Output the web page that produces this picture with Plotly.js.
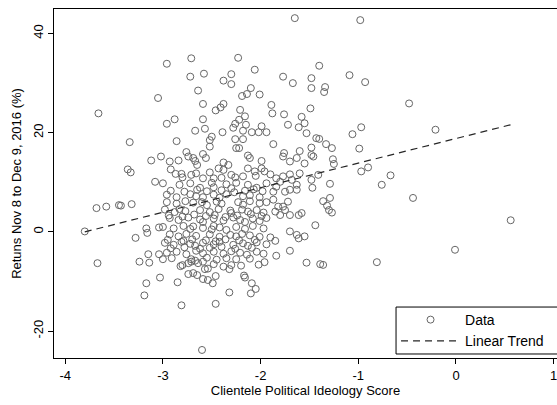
<!DOCTYPE html>
<html>
<head>
<meta charset="utf-8">
<script src="https://cdn.plot.ly/plotly-3.0.1.min.js"></script>
<style>
html,body{margin:0;padding:0;background:#fff;overflow:hidden;width:557px;height:405px;}
#chart{width:575px;height:405px;}
</style>
</head>
<body>
<div id="chart"></div>
<script>
// Clientele Political Ideology Score (x) and Returns Nov 8 - Dec 9, 2016 in % (y)
var scoreTop = [-2.96,-2.71,-2.72,-2.64,-3.05,-3.66,-2.88,-2.96,
  -1.65,-2.23,-2.58,-2.30,-2.06,-2.38,-2.30,-1.77,-1.67,-1.48,-1.48,-1.40,-2.10,-2.14,-2.19,-2.01,-2.59,-2.38,-2.41,-2.46,-2.21,-1.89,-1.88,-1.76,-1.49,-2.59,-2.16,-2.22,-2.26,-2.15,-1.99,-1.72,-1.58,-1.55,-1.61,-2.57,-2.28,
  -0.98,-1.34,-1.35,-1.09,-0.93,-0.48,-0.97,-0.21];
var returnsTop = [33.9,35.0,31.3,28.5,27.0,23.9,22.7,21.8,
  43.1,35.1,31.9,31.8,32.7,30.5,29.8,31.3,30.0,31.0,29.0,33.5,29.0,27.8,27.4,27.7,25.8,25.8,25.1,24.5,24.6,25.6,23.9,23.7,24.9,22.7,23.3,22.6,21.8,21.6,21.3,21.6,23.2,21.9,21.1,20.8,21.0,
  42.7,29.2,28.2,31.6,30.2,25.9,21.1,20.6];

var scoreMid = [-3.34,-2.86,-3.12,-3.02,-3.36,-3.33,-3.08,-3.45,-3.43,-3.32,-3.68,-3.58,-3.80,-3.17,-3.16,-3.04,-3.28,-2.93,-2.92,-2.84,-2.87,-2.81,-2.76,-2.74,-2.69,-2.67,-2.65,-2.71,
  -2.67,-2.39,-2.18,-2.09,-2.02,-1.94,-1.53,-1.43,-2.50,-2.52,-2.26,-2.18,-1.87,-2.52,-2.25,-2.22,-1.76,-1.60,-1.77,-1.70,-1.63,-1.55,-2.59,-2.56,-2.13,-2.11,-1.99,-2.43,-2.38,-2.33,-2.38,-2.13,-2.06,-1.99,-1.96,-1.90,-1.84,-1.77,-1.70,-1.60,-2.59,-2.48,-2.18,-2.26,
  -1.68,-1.63,-1.41,-1.87,-1.84,-1.80,-1.75,-1.70,-1.63,-1.87,-1.82,-1.77,-1.85,-1.80,-1.75,-1.72,-1.70,-1.61,-1.58,-1.70,
  -1.06,-1.40,-1.33,-1.27,-1.48,-1.48,-1.46,-1.26,-1.25,-0.99,-0.97,-0.90,-0.67,-0.76,-0.44,0.56,-1.48,-1.47,-1.29,-1.36,-1.29,-1.32,-1.30,-1.27,-1.44];
var returnsMid = [18.1,18.3,14.4,15.2,12.6,12.0,10.1,5.4,5.3,5.6,4.8,5.1,0.1,0.7,-0.2,0.9,-1.2,14.2,12.6,14.4,11.7,11.7,16.1,15.2,14.9,14.3,13.5,11.5,
  20.4,20.1,20.4,20.1,20.1,20.1,19.9,18.9,19.2,18.5,18.7,18.7,17.7,17.2,16.9,16.9,15.9,16.3,15.2,14.2,14.9,13.8,15.7,14.9,15.4,14.9,14.3,12.8,14.0,13.5,12.5,12.8,12.2,12.8,12.2,11.6,10.8,11.2,11.6,11.8,10.8,10.8,11.2,11.0,
  10.5,9.5,11.5,8.1,9.1,10.1,8.1,8.5,8.5,6.5,5.1,5.1,4.1,3.4,4.4,6.1,3.4,3.4,3.8,0.1,
  19.7,18.75,17.7,16.9,17.0,15.5,15.2,14.65,13.7,16.8,12.2,13.0,11.4,9.5,6.85,2.35,10.5,8.9,9.7,6.2,6.85,5.3,4.4,3.9,1.35];

var scoreLow = [-3.67,-3.15,-3.24,-3.14,-3.04,-3.00,-2.82,-3.17,-3.03,-2.85,-3.19,-2.81,-2.74,-2.69,-2.65,-2.74,-2.71,-2.67,
  -2.60,-2.46,-2.32,-2.10,-2.05,-2.09,-2.17,-2.16,-2.32,-2.30,-2.49,-2.54,-2.59,-2.46,-2.57,-2.54,-2.64,-2.59,-1.96,-1.53,-1.39,-1.84,-1.70,-1.85,-1.90,-1.63,-1.61,-1.55,
  -1.36,-0.81,-0.01];
var returnsLow = [-6.3,-4.5,-6.0,-6.2,-4.5,-5.5,-6.9,-10.35,-9.2,-10.15,-12.8,-14.8,-8.5,-8.3,-8.7,-6.3,-6.0,-5.8,
  -23.8,-14.5,-12.2,-12.4,-11.5,-10.35,-8.8,-9.2,-7.5,-6.7,-10.35,-9.7,-9.5,-8.9,-7.5,-7.4,-6.3,-6.0,-6.1,-6.2,-6.5,-4.8,-3.8,-1.8,-1.1,-0.6,-1.3,-0.9,
  -6.65,-6.1,-3.6];

var scoreCore = [-3.00,-2.83,-2.72,-2.62,-2.50,-2.48,-2.35,-2.30,-2.25,-2.13,-2.04,-1.94,
  -2.96,-2.86,-2.72,-2.66,-2.59,-2.48,-2.42,-2.35,-2.18,-2.11,-2.01,
  -2.96,-2.86,-2.77,-2.69,-2.60,-2.55,-2.45,-2.40,-2.23,-2.18,-2.11,-2.01,-1.94,
  -2.98,-2.88,-2.83,-2.77,-2.62,-2.52,-2.43,-2.31,-2.30,-2.19,-2.13,-2.04,-1.97,
  -2.93,-2.84,-2.74,-2.62,-2.59,-2.48,-2.38,-2.28,-2.21,-2.16,-2.08,-2.01,-1.94,
  -3.00,-2.89,-2.79,-2.72,-2.69,-2.59,-2.50,-2.48,-2.42,-2.35,-2.25,-2.16,-2.08,-1.97,
  -2.93,-2.84,-2.76,-2.66,-2.52,-2.42,-2.31,-2.25,-2.19,-2.11,-2.01,
  -2.98,-2.89,-2.81,-2.72,-2.67,-2.59,-2.48,-2.42,-2.28,-2.18,-2.13,-2.04,-1.94,
  -2.96,-2.86,-2.76,-2.66,-2.59,-2.48,-2.38,-2.30,-2.21,-2.14,-2.04,-1.97,
  -2.91,-2.71,-2.55,-2.45,-2.35,-2.25,-2.11];
var returnsCore = [9.8,9.5,9.8,8.9,9.9,9.0,9.6,8.8,9.9,9.5,8.9,9.8,
  7.5,7.0,7.6,7.2,7.0,7.5,6.9,7.6,7.2,7.4,7.0,
  6.0,5.7,6.2,5.9,6.0,5.4,6.1,5.7,6.0,5.5,6.2,5.8,6.0,
  4.5,4.0,4.6,4.2,4.4,4.0,4.6,4.3,3.8,4.5,4.1,4.4,3.9,
  2.8,2.4,2.9,2.5,2.0,2.7,2.3,2.9,2.4,2.0,2.7,2.2,2.8,
  1.0,0.7,1.2,0.6,1.1,0.8,0.5,1.2,0.9,0.4,1.0,0.6,1.2,0.7,
  -0.5,-0.9,-0.4,-0.8,-0.5,-1.0,-0.6,-0.9,-0.4,-0.7,-1.0,
  -2.2,-2.6,-2.0,-2.4,-2.8,-2.2,-2.5,-2.0,-2.6,-2.3,-2.8,-2.1,-2.5,
  -4.2,-4.0,-4.5,-3.8,-4.3,-4.0,-4.4,-3.9,-4.2,-4.6,-4.0,-4.4,
  -5.3,-5.5,-5.2,-5.6,-5.3,-5.5,-5.4];

// extra points filling the densest part of the cloud
var scoreFill = [-2.92,-2.78,-2.65,-2.55,-2.40,-2.27,-2.16,-2.07,-1.98,
  -2.94,-2.80,-2.68,-2.56,-2.47,-2.36,-2.24,-2.10,-1.99,
  -2.95,-2.79,-2.70,-2.56,-2.46,-2.36,-2.22,-2.06,
  -2.92,-2.78,-2.62,-2.52,-2.40,-2.26,-2.09,
  -2.80,-2.66,-2.52,-2.40,-2.30,-2.05,
  -2.80,-2.48,-2.38,-2.20,-2.02];
var returnsFill = [8.3,8.1,8.5,8.2,8.4,8.0,8.3,8.6,8.2,
  3.3,3.1,3.5,3.2,3.4,3.0,3.3,3.6,3.2,
  -1.6,-1.8,-1.5,-1.7,-1.9,-1.5,-1.7,-1.6,
  -3.3,-3.1,-3.4,-3.2,-3.0,-3.4,-3.2,
  11.0,11.8,12.0,10.9,11.5,11.3,
  -6.7,-6.5,-7.0,-6.8,-6.6];

// Linear trend endpoints
var trendScore = [-3.80, 0.56];
var trendReturns = [0.0, 21.6];

var xTicks = [-4, -3, -2, -1, 0, 1];
var yTicks = [-20, 0, 20, 40];

var score = scoreTop.concat(scoreMid, scoreLow, scoreCore, scoreFill);
var returns = returnsTop.concat(returnsMid, returnsLow, returnsCore, returnsFill);

var fontFam = 'Liberation Sans, Arial, sans-serif';

var data = [
  {
    x: score, y: returns, type: 'scatter', mode: 'markers', name: 'Data',
    marker: {symbol: 'circle-open', size: 7, color: '#666666', line: {width: 1, color: '#666666'}},
    hoverinfo: 'skip'
  },
  {
    x: trendScore, y: trendReturns, type: 'scatter', mode: 'lines', name: 'Linear Trend',
    line: {color: '#262626', width: 1.2, dash: '7px,5px'},
    hoverinfo: 'skip'
  }
];

var layout = {
  width: 575, height: 405,
  margin: {l: 54, r: 18, t: 9, b: 47},
  paper_bgcolor: '#fff', plot_bgcolor: '#fff',
  font: {family: fontFam, size: 13, color: '#000'},
  showlegend: true,
  legend: {
    x: 0.68, y: 0.1547, xanchor: 'left', yanchor: 'top',
    borderwidth: 0, bgcolor: 'rgba(0,0,0,0)',
    font: {family: fontFam, size: 14, color: '#000'},
    itemwidth: 59
  },
  // legend frame, running past the right edge of the picture as in the reference
  shapes: [{
    type: 'rect', xref: 'paper', yref: 'paper', layer: 'above',
    x0: 0.680, x1: 1.06, y0: 0.0115, y1: 0.146,
    line: {color: '#000', width: 1}, fillcolor: 'rgba(255,255,255,1)'
  }],
  xaxis: {
    range: [-4.115, 1.034], tickvals: xTicks, ticktext: xTicks.map(String),
    ticks: 'outside', ticklen: 5, tickcolor: '#000', tickwidth: 1,
    showline: true, linecolor: '#000', linewidth: 1, mirror: true,
    showgrid: false, zeroline: false, ticklabeloverflow: 'allow',
    tickfont: {family: fontFam, size: 13, color: '#000'},
    title: {text: 'Clientele Political Ideology Score', font: {family: fontFam, size: 13, color: '#000'}, standoff: 4}
  },
  yaxis: {
    range: [-25.42, 44.94], tickvals: yTicks, ticktext: yTicks.map(String), tickangle: -90,
    ticks: 'outside', ticklen: 5, tickcolor: '#000', tickwidth: 1,
    showline: true, linecolor: '#000', linewidth: 1, mirror: true,
    showgrid: false, zeroline: false,
    tickfont: {family: fontFam, size: 13, color: '#000'},
    title: {text: 'Retuns Nov 8 to Dec 9, 2016 (%)', font: {family: fontFam, size: 13, color: '#000'}, standoff: 6}
  }
};

Plotly.newPlot('chart', data, layout, {staticPlot: true, displayModeBar: false});
</script>
</body>
</html>
